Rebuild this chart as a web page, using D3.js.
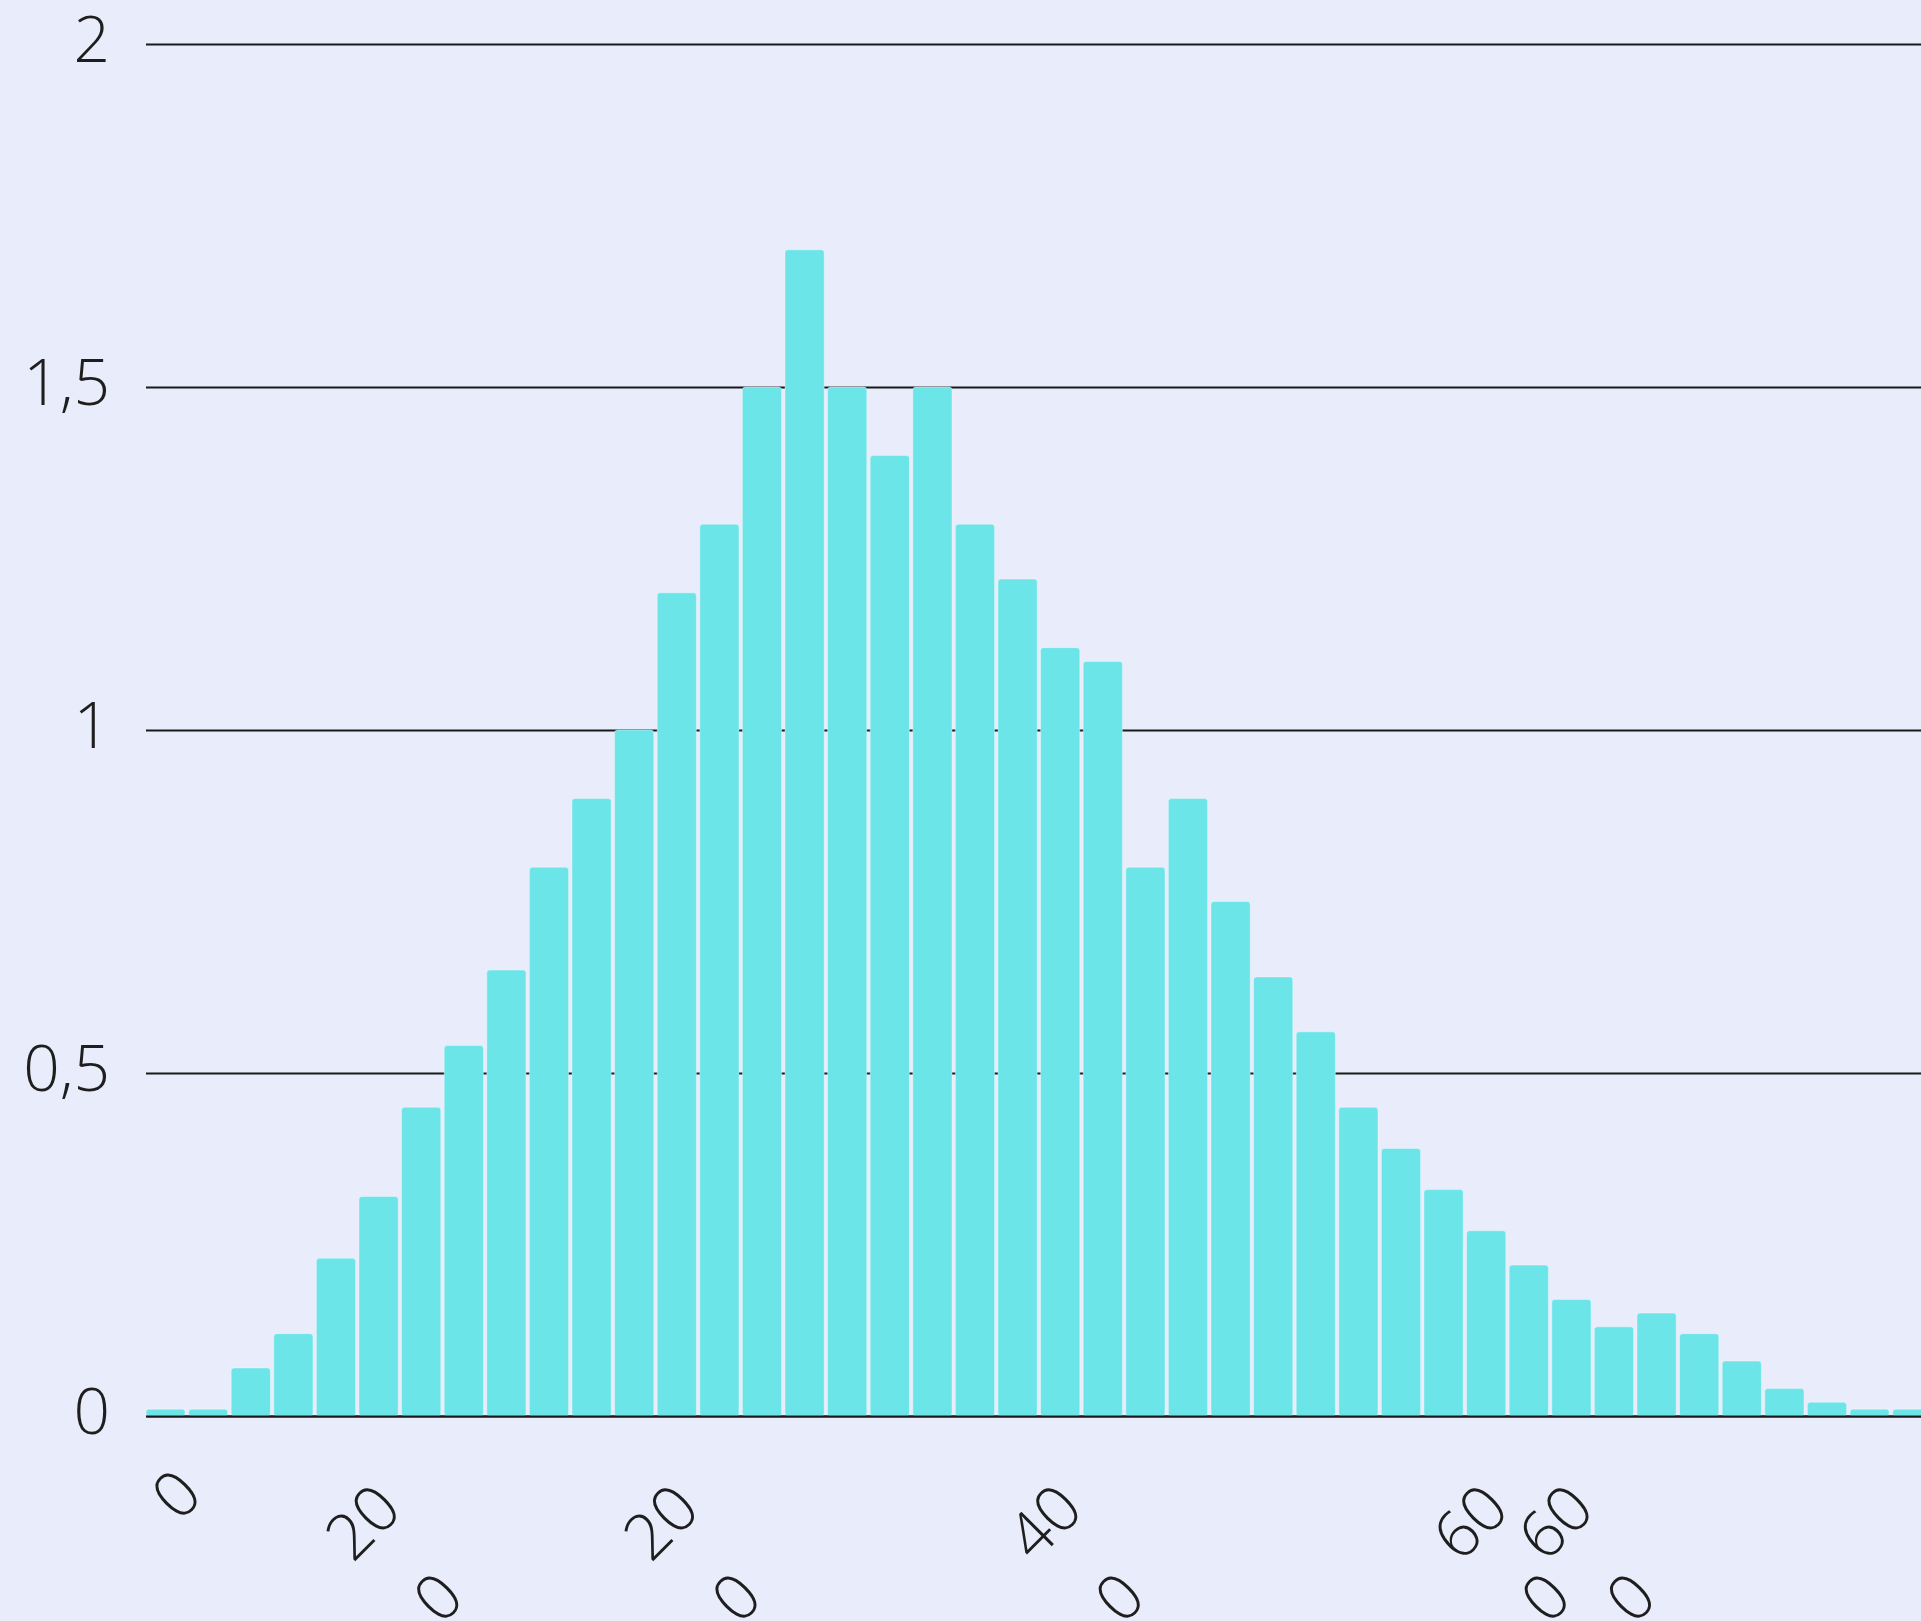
<!DOCTYPE html>
<html><head><meta charset="utf-8">
<script src="https://cdn.jsdelivr.net/npm/d3@7"></script>
<style>
html,body{margin:0;padding:0;background:#e9ecfb;overflow:hidden}
svg{display:block}
text{font-family:"Open Sans",sans-serif;font-weight:300;fill:#1e1e1e}
</style></head><body>
<svg id="c" width="1921" height="1621"></svg>
<script>
// ---- data ----
const categories = [1,2,3,4,5,6,7,8,9,10,11,12,13,14,15,16,17,18,19,20,21,22,23,24,25,26,27,28,29,30,31,32,33,34,35,36,37,38,39,40,41,42];
const values = [0.01,0.01,0.07,0.12,0.23,0.32,0.45,0.54,0.65,0.80,0.90,1.00,1.20,1.30,1.50,1.70,1.50,1.40,1.50,1.30,1.22,1.12,1.10,0.80,0.90,0.75,0.64,0.56,0.45,0.39,0.33,0.27,0.22,0.17,0.13,0.15,0.12,0.08,0.04,0.02,0.01,0.01];
const yTickValues = [0, 0.5, 1, 1.5, 2];
const yTickLabels = ["0", "0,5", "1", "1,5", "2"];
const xTickCategories = [1, 3, 10, 19, 29, 31];
const xTickLabels = ["0", "200", "200", "400", "600", "600"];

// ---- layout ----
const W = 1921, H = 1621;
const plotLeft = 146, plotBottom = 1416, plotTop = 44;
const step = 42.6, pad = 0.08;
const fontSize = 64;

const svg = d3.select("#c");
svg.append("rect").attr("width", W).attr("height", H).attr("fill", "#e9ecfb");

const x = d3.scaleBand().domain(categories)
  .range([plotLeft, plotLeft + step * (categories.length - pad)])
  .paddingInner(pad).paddingOuter(0);
const y = d3.scaleLinear().domain([0, 2]).range([plotBottom, plotTop]);

// y grid + labels
const yAxis = svg.append("g").attr("transform", `translate(${plotLeft},0)`)
  .call(d3.axisLeft(y).tickValues(yTickValues)
    .tickFormat((d, i) => yTickLabels[i])
    .tickSize(-(W - plotLeft)).tickPadding(36));
yAxis.select(".domain").remove();
yAxis.selectAll(".tick line").attr("stroke", "#1a1a1a").attr("stroke-width", 2);
yAxis.selectAll(".tick text").attr("font-size", fontSize).attr("dy", "0.28em")
  .attr("fill", "#1e1e1e").attr("font-family", "'Open Sans', sans-serif").attr("font-weight", 300);

// bars
svg.append("g").selectAll("rect").data(values).join("rect")
  .attr("x", (d, i) => x(categories[i]))
  .attr("y", d => y(d))
  .attr("width", x.bandwidth())
  .attr("height", d => y(0) - y(d))
  .attr("rx", 3).attr("ry", 3)
  .attr("fill", "#6ce5e8")
  .attr("stroke", "#ffffff").attr("stroke-opacity", 0.35).attr("stroke-width", 1);

// x axis
const xAxis = svg.append("g").attr("transform", `translate(0,${plotBottom})`)
  .call(d3.axisBottom(x).tickValues(xTickCategories)
    .tickFormat((d, i) => xTickLabels[i]).tickSize(0).tickSizeOuter(0));
xAxis.select(".domain").attr("stroke", "#1a1a1a").attr("stroke-width", 2);
xAxis.selectAll(".tick text").each(function(d, i) {
  const t = d3.select(this);
  const label = xTickLabels[i];
  const lines = label.length > 2 ? label.match(/.{1,2}/g) : [label];
  t.text(null).attr("y", null).attr("dy", null)
    .attr("font-size", fontSize).attr("text-anchor", "middle")
    .attr("fill", "#1e1e1e").attr("font-family", "'Open Sans', sans-serif").attr("font-weight", 300)
    .attr("transform", "rotate(-45)");
  if (lines.length === 1) {
    t.append("tspan").attr("x", -48).attr("y", 85.5).text(lines[0]);
  } else {
    lines.forEach((ln, k) => {
      t.append("tspan").attr("x", 4).attr("y", 176.6 + k * 106.6).text(ln);
    });
  }
});
</script>
</body></html>
